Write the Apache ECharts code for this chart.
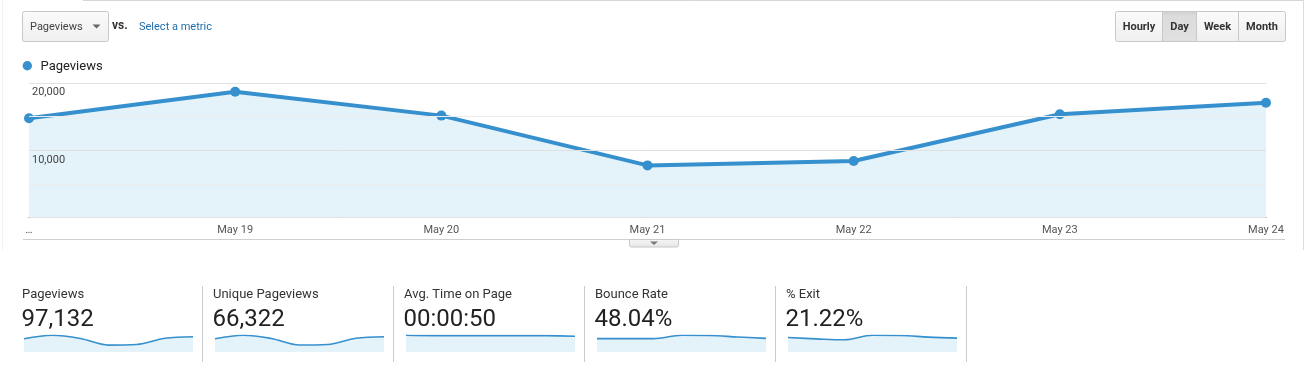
<!DOCTYPE html>
<html>
<head>
<meta charset="utf-8">
<script src="https://cdn.jsdelivr.net/npm/echarts@6/dist/echarts.min.js"></script>
<style>
  html, body { margin: 0; padding: 0; background: #fff; }
  #chart { width: 1308px; height: 365px; }
</style>
</head>
<body>
<div id="chart"></div>
<script>
// ---- data ----
const categories = ['…', 'May 19', 'May 20', 'May 21', 'May 22', 'May 23', 'May 24'];
const pageviews = [14750, 18690, 15150, 7750, 8400, 15350, 17050];
const uniquePageviews = [10050, 12750, 10300, 5300, 5700, 10500, 11700];
const avgTimeOnPage = [51, 50, 50, 50, 50, 50, 48];
const bounceRate = [44.0, 44.0, 44.0, 55.0, 54.5, 49.5, 45.0];
const exitRate = [20.8, 18.9, 17.5, 24.0, 23.7, 21.4, 19.9];
const yTicks = [10000, 20000];
const scorecardTitles = ['Pageviews', 'Unique Pageviews', 'Avg. Time on Page', 'Bounce Rate', '% Exit'];
const scorecardValues = ['97,132', '66,322', '00:00:50', '48.04%', '21.22%'];
const sparkSeries = [pageviews, uniquePageviews, avgTimeOnPage, bounceRate, exitRate];
const intervals = ['Hourly', 'Day', 'Week', 'Month'];

// ---- style ----
const FONT = 'Roboto, "Liberation Sans", Arial, sans-serif';
const BLUE = '#3590cd';
const FILL = '#e4f2fa';

const chart = echarts.init(document.getElementById('chart'), null, { renderer: 'canvas' });

const grids = [{ left: 29, right: 42, top: 83, height: 134.5 }];
const xAxes = [{
  type: 'category', gridIndex: 0, data: categories, boundaryGap: false,
  axisTick: { show: false },
  axisLine: { lineStyle: { color: '#333', width: 1 } },
  axisLabel: { interval: 0, color: '#555', fontSize: 11, fontFamily: FONT, margin: 7 },
  splitLine: { show: false }
}];
const yAxes = [{
  type: 'value', gridIndex: 0, min: 0, max: 20000, interval: 5000, z: 10,
  axisLine: { show: false }, axisTick: { show: false },
  axisLabel: {
    inside: true, margin: 3, color: '#444', fontSize: 11, fontFamily: FONT,
    verticalAlign: 'top', lineHeight: 13, padding: [3, 0, 0, 0],
    formatter: v => yTicks.indexOf(v) >= 0 ? v.toLocaleString('en-US') : ''
  },
  splitLine: { lineStyle: { color: ['#e2e2e2', '#ececec', '#e0e0e0', '#ececec', '#e2e2e2'], width: 1 } }
}];
const series = [{
  name: 'Pageviews', type: 'line', xAxisIndex: 0, yAxisIndex: 0, data: pageviews,
  symbol: 'circle', symbolSize: 10, showAllSymbol: true,
  lineStyle: { color: BLUE, width: 4 },
  itemStyle: { color: BLUE },
  areaStyle: { color: FILL, opacity: 1 },
  z: 3
}];

const graphics = [];
// page frame
graphics.push({ type: 'line', shape: { x1: 83, y1: 0.5, x2: 1304, y2: 0.5 }, style: { stroke: '#d6d6d6', lineWidth: 1 } });
graphics.push({ type: 'line', shape: { x1: 1303.5, y1: 0, x2: 1303.5, y2: 250 }, style: { stroke: '#dddddd', lineWidth: 1 } });
graphics.push({ type: 'line', shape: { x1: 2.5, y1: 0, x2: 2.5, y2: 250 }, style: { stroke: '#f2f2f2', lineWidth: 1 } });

// dropdown
graphics.push({ type: 'rect', shape: { x: 22.5, y: 11.5, width: 86, height: 30, r: 2 },
  style: { fill: { type: 'linear', x: 0, y: 0, x2: 0, y2: 1, colorStops: [{ offset: 0, color: '#fbfbfb' }, { offset: 1, color: '#efefef' }] }, stroke: '#c8c8c8', lineWidth: 1 } });
graphics.push({ type: 'text', style: { text: 'Pageviews', x: 30, y: 27, fill: '#444', font: '11px ' + FONT, verticalAlign: 'middle' } });
graphics.push({ type: 'polygon', shape: { points: [[92.5, 24.5], [100.5, 24.5], [96.5, 28.5]] }, style: { fill: '#666' } });
graphics.push({ type: 'text', style: { text: 'vs.', x: 112, y: 25.5, fill: '#333', font: 'bold 12px ' + FONT, verticalAlign: 'middle' } });
graphics.push({ type: 'text', style: { text: 'Select a metric', x: 139, y: 27, fill: '#1f6ea8', font: '11px ' + FONT, verticalAlign: 'middle' } });

// interval buttons
const btnEdges = [1115.5, 1162.5, 1196.5, 1238.5, 1285.5];
graphics.push({ type: 'rect', shape: { x: 1115.5, y: 11.5, width: 170, height: 30, r: 2 },
  style: { fill: { type: 'linear', x: 0, y: 0, x2: 0, y2: 1, colorStops: [{ offset: 0, color: '#fbfbfb' }, { offset: 1, color: '#efefef' }] }, stroke: '#c8c8c8', lineWidth: 1 } });
intervals.forEach((name, i) => {
  const x0 = btnEdges[i], x1 = btnEdges[i + 1];
  if (name === 'Day') {
    graphics.push({ type: 'rect', shape: { x: x0, y: 12, width: x1 - x0, height: 29 },
      style: { fill: { type: 'linear', x: 0, y: 0, x2: 0, y2: 1, colorStops: [{ offset: 0, color: '#d2d2d2' }, { offset: 0.15, color: '#dcdcdc' }, { offset: 1, color: '#e0e0e0' }] } } });
  }
  if (i > 0) graphics.push({ type: 'line', shape: { x1: x0, y1: 12, x2: x0, y2: 41 }, style: { stroke: '#c8c8c8', lineWidth: 1 } });
  graphics.push({ type: 'text', style: { text: name, x: (x0 + x1) / 2, y: 27, fill: '#333', font: 'bold 11px ' + FONT, align: 'center', verticalAlign: 'middle' } });
});

// legend
graphics.push({ type: 'circle', shape: { cx: 27.3, cy: 65.7, r: 4.7 }, style: { fill: BLUE } });
graphics.push({ type: 'text', style: { text: 'Pageviews', x: 40.5, y: 67, fill: '#222', font: '13px ' + FONT, verticalAlign: 'middle' } });

// separator below axis + toggle tab
graphics.push({ type: 'line', shape: { x1: 23, y1: 239.5, x2: 1285, y2: 239.5 }, style: { stroke: '#cfcfcf', lineWidth: 1 } });
graphics.push({ type: 'rect', shape: { x: 629.5, y: 239.5, width: 49, height: 7.5, r: [0, 0, 2, 2] },
  style: { fill: { type: 'linear', x: 0, y: 0, x2: 0, y2: 1, colorStops: [{ offset: 0, color: '#f6f6f6' }, { offset: 1, color: '#e6e6e6' }] }, stroke: '#c8c8c8', lineWidth: 1 } });
graphics.push({ type: 'polygon', shape: { points: [[650, 241.5], [658, 241.5], [654, 245]] }, style: { fill: '#777' } });

// scorecards
const cardX = [22, 213, 404, 595, 786];
cardX.forEach((x, i) => {
  graphics.push({ type: 'text', style: { text: scorecardTitles[i], x: x, y: 294.5, fill: '#333', font: '13px ' + FONT, verticalAlign: 'middle' } });
  graphics.push({ type: 'text', style: { text: scorecardValues[i], x: x - 0.5, y: 320, fill: '#222', font: '24px ' + FONT, verticalAlign: 'middle' } });
  graphics.push({ type: 'line', shape: { x1: x + 180.5, y1: 286, x2: x + 180.5, y2: 362 }, style: { stroke: '#cccccc', lineWidth: 1 } });

  const gi = i + 1;
  grids.push({ left: x + 2, width: 169, top: 335.3, height: 16.7 });
  xAxes.push({ type: 'category', gridIndex: gi, data: categories, boundaryGap: false, show: false });
  yAxes.push({ type: 'value', gridIndex: gi, min: 0, max: 'dataMax', show: false, splitLine: { show: false } });
  series.push({
    type: 'line', xAxisIndex: gi, yAxisIndex: gi, data: sparkSeries[i],
    smooth: 0.35, symbol: 'none',
    lineStyle: { color: BLUE, width: 1.6 },
    areaStyle: { color: FILL, opacity: 1 },
    silent: true
  });
});

chart.setOption({
  animation: false,
  backgroundColor: '#fff',
  textStyle: { fontFamily: FONT },
  grid: grids,
  xAxis: xAxes,
  yAxis: yAxes,
  series: series,
  graphic: { elements: graphics }
});
</script>
</body>
</html>
